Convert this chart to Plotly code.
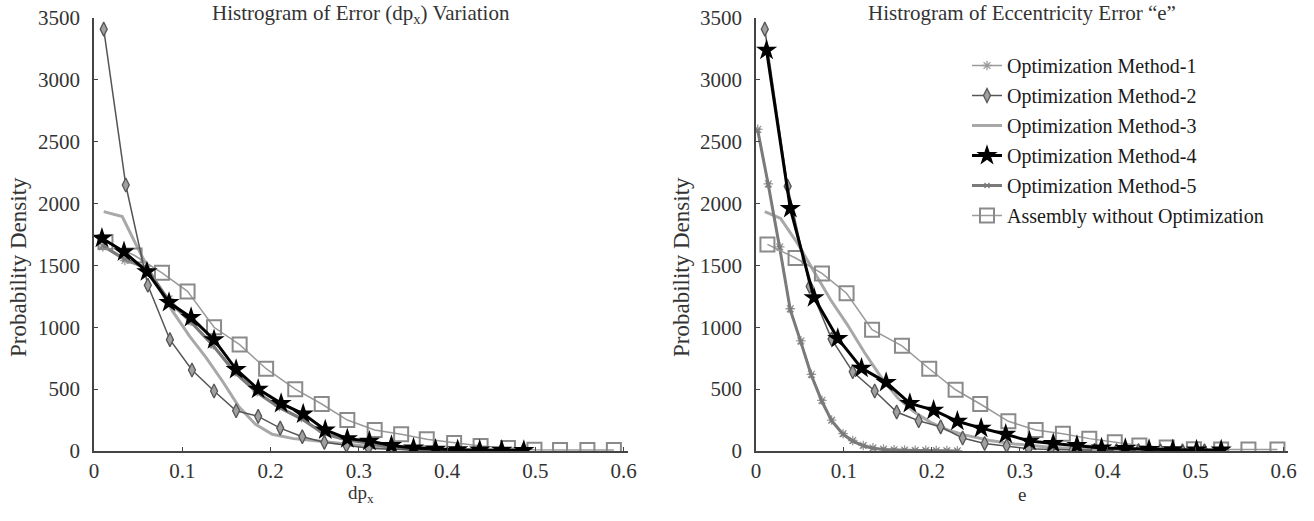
import plotly.graph_objects as go
from plotly.subplots import make_subplots

# ---------------- data: left panel (dp_x) ----------------
dpx_m1_x = [0.010, 0.035, 0.060, 0.085, 0.110, 0.135, 0.160, 0.185, 0.210, 0.235, 0.260, 0.285, 0.310, 0.335, 0.360, 0.385, 0.410, 0.435, 0.460, 0.485]
dpx_m1_y = [1650, 1540, 1470, 1230, 1050, 860, 640, 480, 360, 270, 150, 95, 70, 35, 15, 10, 6, 4, 3, 2]
dpx_m2_x = [0.011, 0.036, 0.061, 0.086, 0.111, 0.136, 0.161, 0.186, 0.211, 0.236, 0.261, 0.286, 0.311, 0.336, 0.361, 0.386, 0.411, 0.436, 0.461, 0.486]
dpx_m2_y = [3410, 2150, 1340, 900, 655, 485, 325, 280, 185, 115, 70, 45, 22, 15, 10, 6, 4, 3, 2, 1]
dpx_m3_x = [0.011, 0.032, 0.051, 0.070, 0.089, 0.108, 0.127, 0.146, 0.164, 0.183, 0.202, 0.226, 0.254, 0.287, 0.320, 0.360, 0.400, 0.450, 0.490]
dpx_m3_y = [1935, 1895, 1620, 1360, 1130, 930, 755, 560, 360, 215, 135, 100, 80, 55, 30, 15, 8, 4, 2]
dpx_m4_x = [0.009, 0.034, 0.060, 0.085, 0.110, 0.136, 0.161, 0.186, 0.212, 0.237, 0.262, 0.287, 0.312, 0.337, 0.362, 0.387, 0.412, 0.437, 0.462, 0.487]
dpx_m4_y = [1720, 1610, 1450, 1200, 1080, 900, 660, 500, 385, 300, 170, 100, 80, 45, 25, 15, 10, 8, 6, 5]
dpx_m5_x = [0.010, 0.035, 0.060, 0.085, 0.110, 0.135, 0.160, 0.185, 0.210, 0.235, 0.260, 0.285, 0.310, 0.335, 0.360, 0.385, 0.410, 0.435, 0.460, 0.485]
dpx_m5_y = [1660, 1550, 1480, 1210, 1040, 850, 630, 470, 350, 260, 140, 90, 65, 30, 12, 8, 5, 3, 2, 1]
dpx_as_x = [0.013, 0.046, 0.077, 0.106, 0.136, 0.165, 0.195, 0.228, 0.258, 0.287, 0.318, 0.348, 0.377, 0.408, 0.438, 0.469, 0.499, 0.528, 0.559, 0.589]
dpx_as_y = [1690, 1580, 1440, 1290, 1000, 860, 665, 500, 380, 250, 170, 135, 95, 65, 40, 25, 10, 8, 8, 8]

# ---------------- data: right panel (e) ----------------
e_m1_x = [0.002, 0.014, 0.027, 0.039, 0.051, 0.063, 0.075, 0.086, 0.099, 0.110, 0.122, 0.133, 0.145, 0.157, 0.169, 0.181, 0.193, 0.205, 0.217, 0.229]
e_m1_y = [2600, 2160, 1650, 1150, 890, 620, 410, 250, 140, 85, 45, 25, 15, 10, 8, 6, 5, 4, 3, 2]
e_m2_x = [0.010, 0.036, 0.061, 0.086, 0.110, 0.135, 0.160, 0.185, 0.210, 0.235, 0.260, 0.285, 0.310, 0.335, 0.360, 0.385, 0.410, 0.435, 0.460, 0.485, 0.510]
e_m2_y = [3410, 2140, 1330, 905, 640, 485, 315, 245, 195, 105, 60, 42, 18, 12, 8, 5, 4, 3, 2, 2, 1]
e_m3_x = [0.010, 0.028, 0.047, 0.066, 0.085, 0.104, 0.123, 0.142, 0.161, 0.180, 0.199, 0.218, 0.237, 0.266, 0.294, 0.337, 0.380, 0.420, 0.460, 0.500]
e_m3_y = [1935, 1880, 1680, 1450, 1220, 1020, 800, 600, 430, 315, 230, 170, 130, 85, 57, 28, 15, 10, 6, 4]
e_m4_x = [0.012, 0.039, 0.066, 0.093, 0.120, 0.148, 0.175, 0.202, 0.229, 0.256, 0.284, 0.311, 0.338, 0.365, 0.393, 0.420, 0.447, 0.474, 0.501, 0.529]
e_m4_y = [3240, 1960, 1240, 910, 670, 555, 385, 330, 240, 185, 135, 80, 60, 45, 25, 20, 12, 10, 8, 8]
e_m5_x = [0.002, 0.014, 0.027, 0.039, 0.051, 0.063, 0.075, 0.086, 0.099, 0.110, 0.122, 0.133, 0.145, 0.157, 0.169, 0.181, 0.193, 0.205, 0.217, 0.229]
e_m5_y = [2590, 2150, 1640, 1140, 880, 610, 400, 245, 135, 80, 42, 22, 13, 9, 7, 5, 4, 3, 2, 1]
e_as_x = [0.013, 0.045, 0.075, 0.103, 0.132, 0.166, 0.197, 0.227, 0.255, 0.287, 0.318, 0.349, 0.379, 0.408, 0.436, 0.467, 0.498, 0.529, 0.560, 0.593]
e_as_y = [1670, 1560, 1435, 1275, 980, 850, 665, 495, 380, 240, 170, 140, 100, 70, 45, 28, 14, 12, 12, 12]

names = ["Optimization Method-1", "Optimization Method-2", "Optimization Method-3",
         "Optimization Method-4", "Optimization Method-5", "Assembly without Optimization"]
x_ticks = [0, 0.1, 0.2, 0.3, 0.4, 0.5, 0.6]
x_tick_text = ["0", "0.1", "0.2", "0.3", "0.4", "0.5", "0.6"]
y_ticks = [0, 500, 1000, 1500, 2000, 2500, 3000, 3500]

SERIF = "Liberation Serif, Times New Roman, serif"
TXT = "#333333"

W, H = 1314, 521
M_T, M_B = 18, 70
PLOT_H = H - M_T - M_B
L_DOM = (94, 628)
R_DOM = (756, 1288)

styles = [
    dict(line=dict(color="#9a9a9a", width=1.5),
         marker=dict(symbol="asterisk-open", size=8, color="#9a9a9a", line=dict(width=1.3, color="#9a9a9a")), mode="lines+markers"),
    dict(line=dict(color="#555555", width=1.5),
         marker=dict(symbol="diamond-tall", size=10, color="#a0a0a0", line=dict(width=1.3, color="#555555")), mode="lines+markers"),
    dict(line=dict(color="#a8a8a8", width=3), mode="lines"),
    dict(line=dict(color="#000000", width=3),
         marker=dict(symbol="star", size=16, color="#000000", line=dict(width=0)), mode="lines+markers"),
    dict(line=dict(color="#7a7a7a", width=3),
         marker=dict(symbol="x-thin-open", size=5, color="#7a7a7a", line=dict(width=1.2, color="#7a7a7a")), mode="lines+markers"),
    dict(line=dict(color="#9a9a9a", width=1.5),
         marker=dict(symbol="square-open", size=14, color="#8a8a8a", line=dict(width=2, color="#8a8a8a")), mode="lines+markers"),
]

left = [(dpx_m1_x, dpx_m1_y), (dpx_m2_x, dpx_m2_y), (dpx_m3_x, dpx_m3_y),
        (dpx_m4_x, dpx_m4_y), (dpx_m5_x, dpx_m5_y), (dpx_as_x, dpx_as_y)]
right = [(e_m1_x, e_m1_y), (e_m2_x, e_m2_y), (e_m3_x, e_m3_y),
         (e_m4_x, e_m4_y), (e_m5_x, e_m5_y), (e_as_x, e_as_y)]

fig = make_subplots(rows=1, cols=2, horizontal_spacing=0.1)

draw_order = [2, 0, 4, 5, 1, 3]
for i in draw_order:
    x, y = left[i]
    fig.add_trace(go.Scatter(x=x, y=y, name=names[i], showlegend=False, legendgroup=f"g{i}",
                             **styles[i]), row=1, col=1)
for i in draw_order:
    x, y = right[i]
    fig.add_trace(go.Scatter(x=x, y=y, name=names[i], showlegend=True, legendgroup=f"g{i}",
                             legendrank=i + 1, **styles[i]), row=1, col=2)

axis_common = dict(showgrid=False, zeroline=False, showline=True, linecolor="#444444", linewidth=1.5,
                   ticks="inside", ticklen=4, tickcolor="#444444", automargin=False,
                   tickfont=dict(family=SERIF, size=21, color=TXT))

fig.update_xaxes(range=[0, 0.605], tickvals=x_ticks, ticktext=x_tick_text, **axis_common)
fig.update_yaxes(range=[0, 3500], tickvals=y_ticks, ticklabelstandoff=8, **axis_common)

fig.update_xaxes(domain=[L_DOM[0] / W, L_DOM[1] / W], row=1, col=1)
fig.update_xaxes(domain=[R_DOM[0] / W, R_DOM[1] / W], row=1, col=2)


def py(pixel_y):
    return (H - M_B - pixel_y) / PLOT_H


annotations = []
for dom, ttl, xl, xly, ytx in [(L_DOM, "Histrogram of Error (dp<sub>x</sub>) Variation", "dp<sub>x</sub>", 494, 18),
                               (R_DOM, "Histrogram of Eccentricity Error \u201ce\u201d", "e", 495, 681)]:
    cx = (dom[0] + dom[1]) / 2 / W
    annotations.append(dict(text=ttl, x=cx, y=py(-1), xref="paper", yref="paper",
                            xanchor="center", yanchor="top", showarrow=False,
                            font=dict(family=SERIF, size=21, color=TXT)))
    annotations.append(dict(text=xl, x=cx, y=py(xly), xref="paper", yref="paper",
                            xanchor="center", yanchor="middle", showarrow=False,
                            font=dict(family=SERIF, size=19, color=TXT)))
    annotations.append(dict(text="Probability Density", x=ytx / W, y=py(267), xref="paper", yref="paper",
                            xanchor="center", yanchor="middle", showarrow=False, textangle=-90,
                            font=dict(family=SERIF, size=23, color=TXT)))

fig.update_layout(
    width=W, height=H,
    margin=dict(l=0, r=0, t=M_T, b=M_B),
    paper_bgcolor="white", plot_bgcolor="white",
    font=dict(family=SERIF, color=TXT),
    legend=dict(x=967 / W, y=py(46), xanchor="left", yanchor="top",
                font=dict(family=SERIF, size=20, color="#1a1a1a"),
                traceorder="grouped", tracegroupgap=1, bgcolor="rgba(0,0,0,0)"),
    annotations=annotations,
)

fig.write_html("out.html", config={"displayModeBar": False},
               post_script="document.body.style.margin='0px';")
